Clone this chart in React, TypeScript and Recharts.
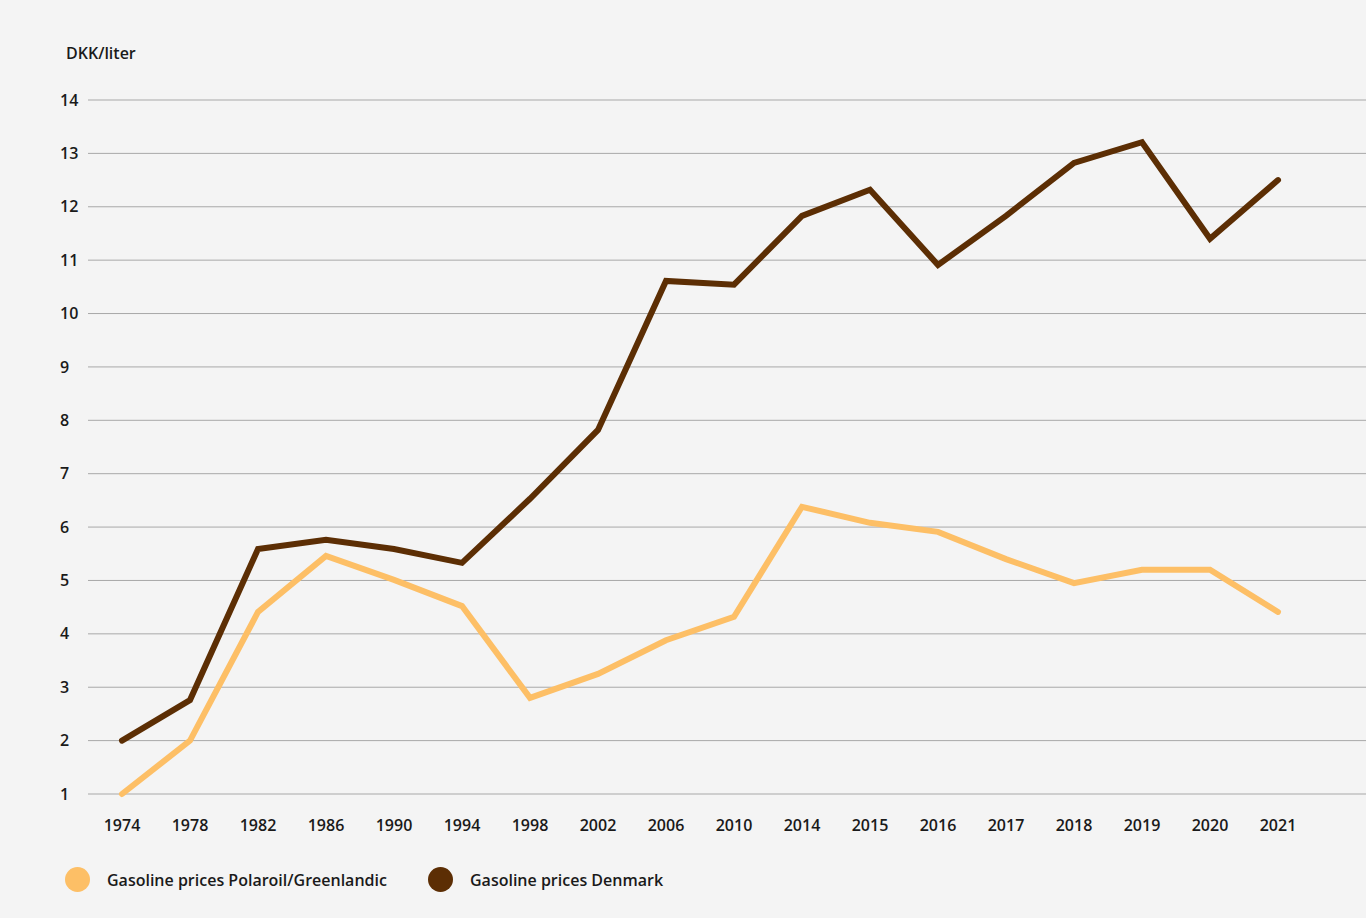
import { LineChart, Line, XAxis, YAxis, CartesianGrid } from "recharts";

const years = [
  "1974", "1978", "1982", "1986", "1990", "1994", "1998", "2002", "2006",
  "2010", "2014", "2015", "2016", "2017", "2018", "2019", "2020", "2021",
];

const greenland = [
  1.0, 2.0, 4.41, 5.46, 5.01, 4.52, 2.8, 3.25, 3.88,
  4.32, 6.38, 6.08, 5.91, 5.4, 4.95, 5.2, 5.2, 4.41,
];

const denmark = [
  2.0, 2.76, 5.59, 5.76, 5.59, 5.33, 6.53, 7.82, 10.61,
  10.54, 11.83, 12.32, 10.91, 11.83, 12.82, 13.21, 11.4, 12.5,
];

const yTicks = [1, 2, 3, 4, 5, 6, 7, 8, 9, 10, 11, 12, 13, 14];

const data = years.map((year, i) => ({
  year,
  greenland: greenland[i],
  denmark: denmark[i],
}));

const FONT = "'Open Sans', sans-serif";
const LIGHT = "#fdbf66";
const DARK = "#5c2e04";

function YTick(props: any) {
  const { y, payload } = props;
  return (
    <text x={60} y={y} dy="0.35em" textAnchor="start" fontSize={16} fontWeight={600} fill="#1a1a1a" fontFamily={FONT}>
      {payload.value}
    </text>
  );
}

export default function App() {
  return (
    <div style={{ position: "absolute", left: 0, top: 0, width: 1366, height: 918, background: "#f4f4f4", fontFamily: FONT }}>
      <div style={{ position: "absolute", left: 66, top: 42, fontSize: 16, fontWeight: 600, color: "#1a1a1a" }}>
        DKK/liter
      </div>
      <LineChart width={1366} height={918} data={data} margin={{ top: 100, right: 0, bottom: 94, left: 0 }}>
        <CartesianGrid vertical={false} stroke="#a8a8a8" strokeWidth={1} />
        <XAxis
          dataKey="year"
          axisLine={false}
          tickLine={false}
          tickSize={0}
          tickMargin={26}
          height={30}
          padding={{ left: 34, right: 88 }}
          interval={0}
          tick={{ fontSize: 16, fontWeight: 600, fill: "#1a1a1a", fontFamily: FONT }}
        />
        <YAxis
          domain={[1, 14]}
          ticks={yTicks}
          width={88}
          axisLine={false}
          tickLine={false}
          tick={<YTick />}
          interval={0}
        />
        <Line dataKey="greenland" type="linear" stroke={LIGHT} strokeWidth={6} strokeLinecap="round" dot={false} activeDot={false} isAnimationActive={false} />
        <Line dataKey="denmark" type="linear" stroke={DARK} strokeWidth={6} strokeLinecap="round" dot={false} activeDot={false} isAnimationActive={false} />
      </LineChart>
      <div style={{ position: "absolute", left: 65, top: 867, display: "flex", alignItems: "center", fontSize: 16, fontWeight: 600, color: "#1a1a1a" }}>
        <span style={{ width: 25, height: 25, borderRadius: "50%", background: LIGHT, display: "inline-block" }} />
        <span style={{ marginLeft: 17 }}>Gasoline prices Polaroil/Greenlandic</span>
      </div>
      <div style={{ position: "absolute", left: 428, top: 867, display: "flex", alignItems: "center", fontSize: 16, fontWeight: 600, color: "#1a1a1a" }}>
        <span style={{ width: 25, height: 25, borderRadius: "50%", background: DARK, display: "inline-block" }} />
        <span style={{ marginLeft: 17 }}>Gasoline prices Denmark</span>
      </div>
    </div>
  );
}
